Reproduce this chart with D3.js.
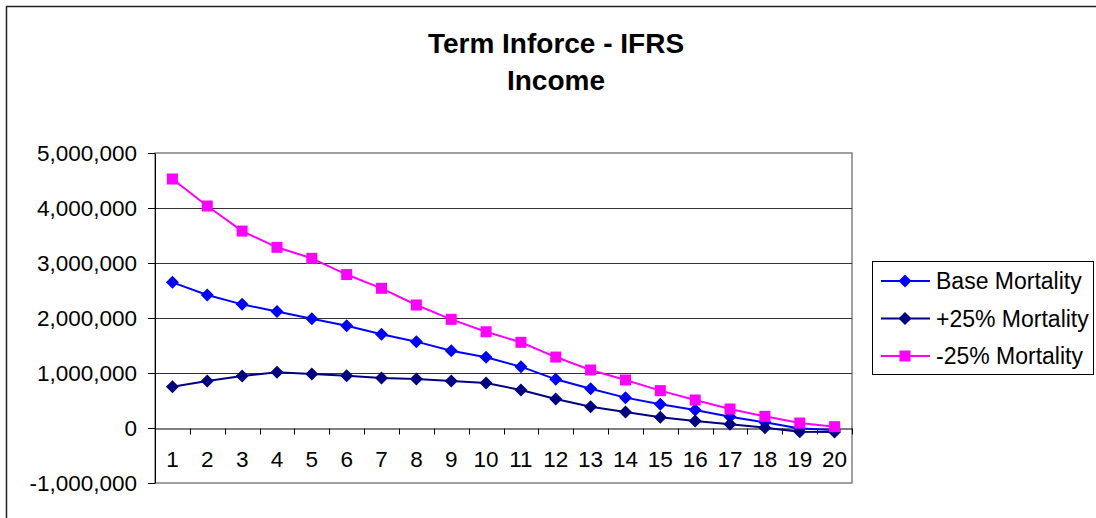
<!DOCTYPE html>
<html lang="en">
<head>
    <meta charset="UTF-8">
    <script src="https://d3js.org/d3.v7.min.js"></script>
    <title>Term Inforce - IFRS Income</title>
    <style>
        body { margin: 0; background: #fff; }
        svg { font-family: "Liberation Sans", Arial, sans-serif; }
        .grid line { stroke: #333; stroke-width: 1px; }
        .axis path, .axis line { stroke: #000; }
        .axis text { font-size: 22.5px; fill: #000; }
    </style>
</head>
<body>
    <svg width="1096" height="518"></svg>
    <script>
        // chart data
        var years = d3.range(1, 21);
        var yTicks = [-1000000, 0, 1000000, 2000000, 3000000, 4000000, 5000000];
        var seriesNames = ["Base Mortality", "+25% Mortality", "-25% Mortality"];
        var base = [2648000, 2418000, 2248000, 2120000, 1988000, 1860000, 1703000, 1570000, 1406000, 1285000,
                    1115000, 885000, 715000, 552000, 430000, 327000, 206000, 103000, -10000, -36000];
        var plus25 = [752000, 855000, 945000, 1012000, 982000, 952000, 909000, 890000, 855000, 818000,
                      691000, 527000, 388000, 291000, 194000, 127000, 67000, 6000, -70000, -73000];
        var minus25 = [4527000, 4036000, 3580000, 3285000, 3085000, 2790000, 2540000, 2236000, 1976000, 1750000,
                       1558000, 1290000, 1055000, 873000, 679000, 509000, 345000, 212000, 90000, 24000];

        var series = [
            {name: seriesNames[0], values: base, color: "#0000ff", shape: "diamond"},
            {name: seriesNames[1], values: plus25, color: "#000080", shape: "diamond"},
            {name: seriesNames[2], values: minus25, color: "#ff00ff", shape: "square"}
        ];

        var svg = d3.select("svg");
        var plotLeft = 155, plotRight = 852, plotTop = 153, plotBottom = 483;

        var fmt = d3.formatLocale({decimal: ".", thousands: ",", grouping: [3], currency: ["", ""], minus: "-"}).format(",");

        var x = d3.scaleBand().domain(years).range([plotLeft, plotRight]);
        var y = d3.scaleLinear().domain([-1000000, 5000000]).range([plotBottom, plotTop]);

        // outer chart frame
        svg.append("rect")
            .attr("x", 6.5).attr("y", 6.5)
            .attr("width", 1200).attr("height", 600)
            .attr("fill", "none").attr("stroke", "#222").attr("stroke-width", 1.5);

        // title
        var title = svg.append("text")
            .attr("text-anchor", "middle")
            .attr("font-size", 28).attr("font-weight", "bold");
        title.append("tspan").attr("x", 556).attr("y", 53).text("Term Inforce - IFRS");
        title.append("tspan").attr("x", 556).attr("y", 90).text("Income");

        // plot area border
        svg.append("rect")
            .attr("x", plotLeft).attr("y", plotTop)
            .attr("width", plotRight - plotLeft).attr("height", plotBottom - plotTop)
            .attr("fill", "none").attr("stroke", "#808080").attr("stroke-width", 1.5);

        // gridlines
        svg.append("g").attr("class", "grid")
            .selectAll("line")
            .data(yTicks.filter(d => d > -1000000 && d < 5000000 && d !== 0))
            .enter().append("line")
            .attr("x1", plotLeft).attr("x2", plotRight)
            .attr("y1", d => Math.round(y(d)) + 0.5).attr("y2", d => Math.round(y(d)) + 0.5);

        // y axis
        svg.append("g").attr("class", "axis")
            .attr("transform", `translate(${plotLeft},0)`)
            .call(d3.axisLeft(y).tickValues(yTicks).tickFormat(fmt).tickSize(7).tickPadding(11).tickSizeOuter(0));

        // x axis line at zero
        var zeroY = Math.round(y(0)) + 0.5;
        svg.append("g").attr("class", "axis")
            .attr("transform", `translate(0,${zeroY})`)
            .call(d3.axisBottom(x).tickSize(0).tickPadding(23).tickSizeOuter(0))
            .call(g => g.select(".domain").attr("stroke-width", 1.2));

        // x ticks at category boundaries
        svg.append("g")
            .selectAll("line")
            .data(years.concat([21]))
            .enter().append("line")
            .attr("x1", d => Math.round(d <= 20 ? x(d) : x(20) + x.bandwidth()) + 0.5)
            .attr("x2", d => Math.round(d <= 20 ? x(d) : x(20) + x.bandwidth()) + 0.5)
            .attr("y1", zeroY).attr("y2", zeroY + 6)
            .attr("stroke", "#000");

        var cx = d => x(d) + x.bandwidth() / 2;
        var line = d3.line().x((d, i) => cx(years[i])).y(d => y(d));

        function marker(sel, shape, color) {
            if (shape === "diamond") {
                sel.append("path").attr("d", "M0,-6.5L6.5,0L0,6.5L-6.5,0Z").attr("fill", color);
            } else {
                sel.append("rect").attr("x", -5.5).attr("y", -5.5).attr("width", 11).attr("height", 11).attr("fill", color);
            }
        }

        series.forEach(function (s) {
            var g = svg.append("g");
            g.append("path")
                .attr("d", line(s.values))
                .attr("fill", "none").attr("stroke", s.color).attr("stroke-width", 2);
            g.selectAll("g.pt")
                .data(s.values)
                .enter().append("g").attr("class", "pt")
                .attr("transform", (d, i) => `translate(${cx(years[i])},${y(d)})`)
                .each(function () { marker(d3.select(this), s.shape, s.color); });
        });

        // legend
        var legend = svg.append("g");
        legend.append("rect")
            .attr("x", 872.5).attr("y", 261.5).attr("width", 221).attr("height", 113)
            .attr("fill", "#fff").attr("stroke", "#000").attr("stroke-width", 1);
        series.forEach(function (s, i) {
            var ly = 281 + i * 37.5;
            var row = legend.append("g");
            row.append("line")
                .attr("x1", 881).attr("x2", 930).attr("y1", ly).attr("y2", ly)
                .attr("stroke", s.color).attr("stroke-width", 2);
            marker(row.append("g").attr("transform", `translate(905,${ly})`), s.shape, s.color);
            row.append("text")
                .attr("x", 936).attr("y", ly).attr("dy", "0.35em")
                .attr("font-size", 23).text(s.name);
        });
    </script>
</body>
</html>
